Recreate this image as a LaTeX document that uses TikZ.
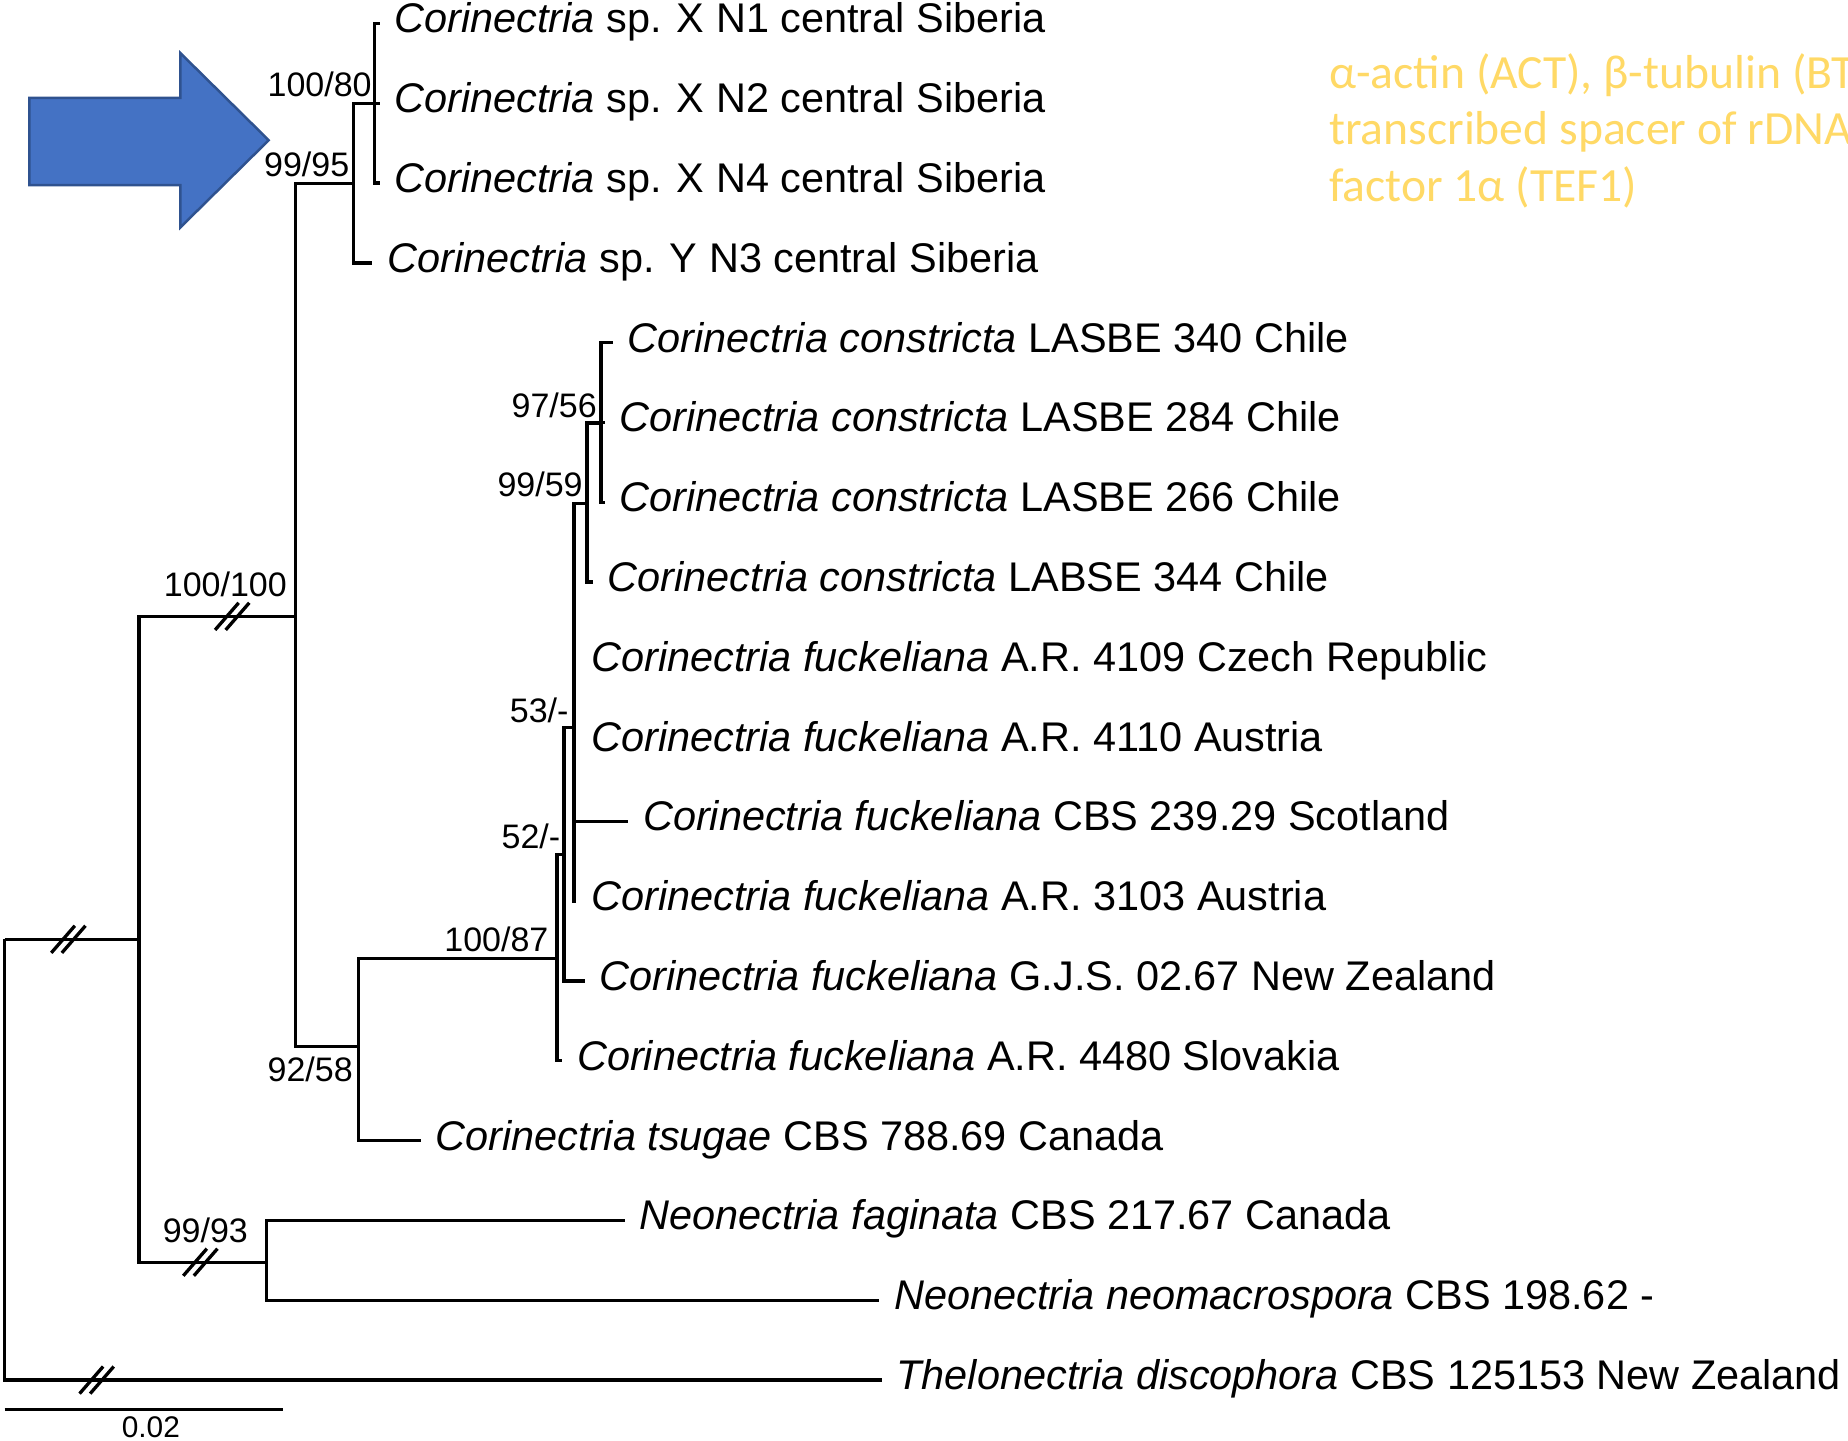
\documentclass[tikz,border=0pt]{standalone}
\usepackage{fontspec}
\setmainfont{Liberation Sans}
\newfontfamily\calfont{Carlito}
\definecolor{arrowblue}{HTML}{4472C4}
\definecolor{arrowedge}{HTML}{2F528F}
\definecolor{ygold}{HTML}{FFD966}
\begin{document}
\begin{tikzpicture}[x=0.01cm,y=-0.01cm,
  br/.style={line width=0.8pt, line join=miter},
  taxon/.style={anchor=base west, inner sep=0pt, font=\fontsize{10}{12}\selectfont},
  bs/.style={anchor=base east, inner sep=0pt, font=\fontsize{8.2}{10}\selectfont},
  brk/.pic={\draw[br] (-14.5,11.5) -- (5.5,-11.5) (-5.5,11.5) -- (14.5,-11.5);},
  ytext/.style={anchor=base west, inner sep=0pt, text=ygold, font=\calfont\fontsize{11.5}{13.7}\selectfont}]
\useasboundingbox (0,0) rectangle (1568,1222);
% internal nodes
\coordinate (R) at (4,797);
\coordinate (A) at (118,797);
\coordinate (B) at (251,523);
\coordinate (C) at (226,1071);
\coordinate (D) at (300,155.5);
\coordinate (E) at (318,88);
\coordinate (F) at (304,888);
\coordinate (G) at (472.5,813);
\coordinate (H) at (478.5,725);
\coordinate (I) at (487,617);
\coordinate (J) at (498,427);
\coordinate (K) at (510,359);
% tips
\coordinate (e1) at (322,20);
\coordinate (e2) at (322,87.7);
\coordinate (e3) at (322,155.4);
\coordinate (e4) at (316,223.1);
\coordinate (e5) at (520,290.8);
\coordinate (e6) at (513,358.5);
\coordinate (e7) at (513,426.2);
\coordinate (e8) at (503,493.9);
\coordinate (e9) at (489,561.6);
\coordinate (e10) at (489,629.3);
\coordinate (e11) at (533,697);
\coordinate (e12) at (489,764.7);
\coordinate (e13) at (496,832.4);
\coordinate (e14) at (477,900.1);
\coordinate (e15) at (357,967.8);
\coordinate (e16) at (530,1035.5);
\coordinate (e17) at (746,1103.2);
\coordinate (e18) at (748,1170.9);
% branches
\draw[br] (R) |- (A);
\draw[br] (R) |- (e18);
\draw[br] (A) |- (B);
\draw[br] (A) |- (C);
\draw[br] (C) |- (e16);
\draw[br] (C) |- (e17);
\draw[br] (B) |- (D);
\draw[br] (B) |- (F);
\draw[br] (D) |- (E);
\draw[br] (D) |- (e4);
\draw[br] (E) |- (e1);
\draw[br] (E) |- (e2);
\draw[br] (E) |- (e3);
\draw[br] (F) |- (G);
\draw[br] (F) |- (e15);
\draw[br] (G) |- (H);
\draw[br] (G) |- (e14);
\draw[br] (H) |- (I);
\draw[br] (H) |- (e13);
\draw[br] (I) |- (J);
\draw[br] (I) |- (e9);
\draw[br] (I) |- (e10);
\draw[br] (I) |- (e11);
\draw[br] (I) |- (e12);
\draw[br] (J) |- (K);
\draw[br] (J) |- (e8);
\draw[br] (K) |- (e5);
\draw[br] (K) |- (e6);
\draw[br] (K) |- (e7);
% break marks
\pic at (58,797) {brk};
\pic at (197,523) {brk};
\pic at (170,1071) {brk};
\pic at (82,1171) {brk};
% taxon labels
\path (e1) ++(12,8) node[taxon] (t1) {\textit{Corinectria} sp. X N1 central Siberia};
\path (e2) ++(12,8) node[taxon] (t2) {\textit{Corinectria} sp. X N2 central Siberia};
\path (e3) ++(12,8) node[taxon] (t3) {\textit{Corinectria} sp. X N4 central Siberia};
\path (e4) ++(12,8) node[taxon] (t4) {\textit{Corinectria} sp. Y N3 central Siberia};
\path (e5) ++(12,8) node[taxon] (t5) {\textit{Corinectria constricta} LASBE 340 Chile};
\path (e6) ++(12,8) node[taxon] (t6) {\textit{Corinectria constricta} LASBE 284 Chile};
\path (e7) ++(12,8) node[taxon] (t7) {\textit{Corinectria constricta} LASBE 266 Chile};
\path (e8) ++(12,8) node[taxon] (t8) {\textit{Corinectria constricta} LABSE 344 Chile};
\path (e9) ++(12,8) node[taxon] (t9) {\textit{Corinectria fuckeliana} A.R. 4109 Czech Republic};
\path (e10) ++(12,8) node[taxon] (t10) {\textit{Corinectria fuckeliana} A.R. 4110 Austria};
\path (e11) ++(12,8) node[taxon] (t11) {\textit{Corinectria fuckeliana} CBS 239.29 Scotland};
\path (e12) ++(12,8) node[taxon] (t12) {\textit{Corinectria fuckeliana} A.R. 3103 Austria};
\path (e13) ++(12,8) node[taxon] (t13) {\textit{Corinectria fuckeliana} G.J.S. 02.67 New Zealand};
\path (e14) ++(12,8) node[taxon] (t14) {\textit{Corinectria fuckeliana} A.R. 4480 Slovakia};
\path (e15) ++(12,8) node[taxon] (t15) {\textit{Corinectria tsugae} CBS 788.69 Canada};
\path (e16) ++(12,8) node[taxon] (t16) {\textit{Neonectria faginata} CBS 217.67 Canada};
\path (e17) ++(12,8) node[taxon] (t17) {\textit{Neonectria neomacrospora} CBS 198.62 -};
\path (e18) ++(12,8) node[taxon] (t18) {\textit{Thelonectria discophora} CBS 125153 New Zealand};
% support values
\node[bs] (bE) at (316,82) {100/80};
\node[bs] (bD) at (297,150) {99/95};
\node[bs] (bB) at (244,506) {100/100};
\node[bs] (bK) at (507,354) {97/56};
\node[bs] (bJ) at (495,421) {99/59};
\node[bs] (bI) at (483,613) {53/-};
\node[bs] (bH) at (476,720) {52/-};
\node[bs] (bG) at (466,807) {100/87};
\node[bs] (bF) at (300,918) {92/58};
\node[bs] (bC) at (211,1054) {99/93};
% scale bar
\coordinate (s1) at (4,1196);
\coordinate (s2) at (240,1196);
\draw[br] (s1) -- (s2);
\node[anchor=base, inner sep=0pt, font=\fontsize{7.2}{9}\selectfont] (sl) at (128,1220) {0.02};
% blue arrow
\draw[fill=arrowblue, draw=arrowedge, line width=0.6pt] (25,83) -- (153,83) -- (153,45) -- (228,119) -- (153,193) -- (153,157) -- (25,157) -- cycle;
% yellow text (clipped at right edge, as in the reference)
\begin{scope}
\clip (0,0) rectangle (1568,1222);
\node[ytext] (y1) at (1127,75) {α-actin (ACT), β-tubulin (BTUB), internal};
\node[ytext] (y2) at (1127,123) {transcribed spacer of rDNA (ITS), and};
\node[ytext] (y3) at (1127,171) {factor 1α (TEF1)};
\end{scope}
\end{tikzpicture}
\end{document}
